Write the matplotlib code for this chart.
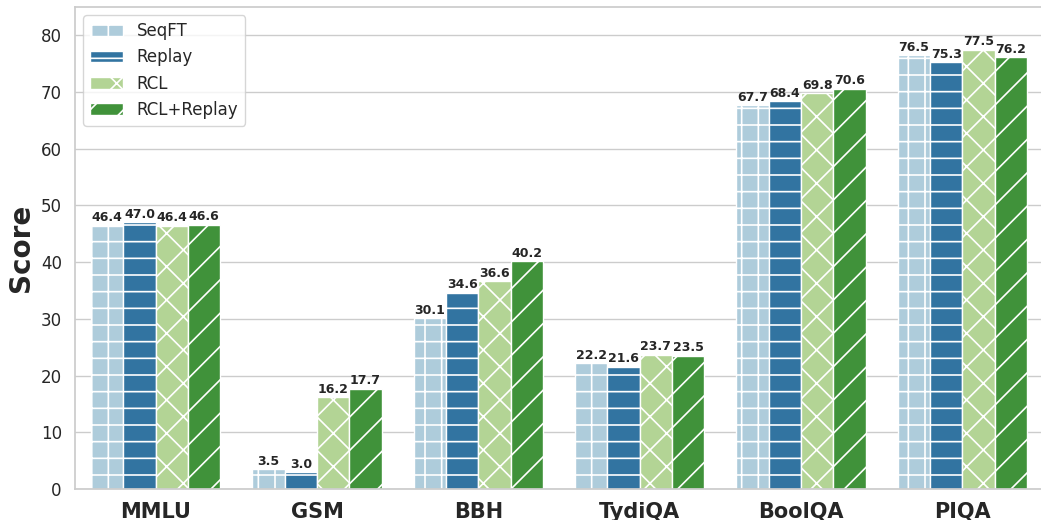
import numpy as np
import matplotlib
matplotlib.use("Agg")
import matplotlib.pyplot as plt
import seaborn as sns

# data
tasks = ["MMLU", "GSM", "BBH", "TydiQA", "BoolQA", "PIQA"]
methods = ["SeqFT", "Replay", "RCL", "RCL+Replay"]
seqft = [46.4, 3.5, 30.1, 22.2, 67.7, 76.5]
replay = [47.0, 3.0, 34.6, 21.6, 68.4, 75.3]
rcl = [46.4, 16.2, 36.6, 23.7, 69.8, 77.5]
rcl_replay = [46.6, 17.7, 40.2, 23.5, 70.6, 76.2]
scores = [seqft, replay, rcl, rcl_replay]
hatches = ["+", "-", "x", "/"]

sns.set_theme(style="whitegrid")
plt.rcParams["font.family"] = ["DejaVu Sans"]
plt.rcParams["hatch.color"] = "white"
plt.rcParams["hatch.linewidth"] = 1.2

colors = [sns.desaturate(c, 0.75) for c in sns.color_palette("Paired", 4)]

fig = plt.figure(figsize=(10.41, 5.2), dpi=100)
ax = fig.add_axes([75 / 1041, 31 / 520, (1043 - 75) / 1041, (489 - 7) / 520])

x = np.arange(len(tasks))
width = 0.2
for i, (name, vals) in enumerate(zip(methods, scores)):
    bars = ax.bar(x + (i - 1.5) * width, vals, width, color=colors[i],
                  edgecolor="white", linewidth=1.0, hatch=hatches[i], label=name)
    ax.bar_label(bars, fmt="%.1f", fontsize=9, fontweight="bold", padding=1, color=".15")

ax.set_xlim(-0.5, len(tasks) - 0.5)
ax.set_ylim(0, 85)
ax.set_yticks(range(0, 81, 10))
ax.set_xticks(x)
ax.set_xticklabels(tasks, fontsize=15, fontweight="bold")
ax.tick_params(axis="y", labelsize=12)
ax.set_ylabel("Score", fontsize=20, fontweight="bold")
ax.grid(axis="x", visible=False)
ax.legend(loc="upper left", fontsize=12)

plt.savefig("out.png", dpi=100)
